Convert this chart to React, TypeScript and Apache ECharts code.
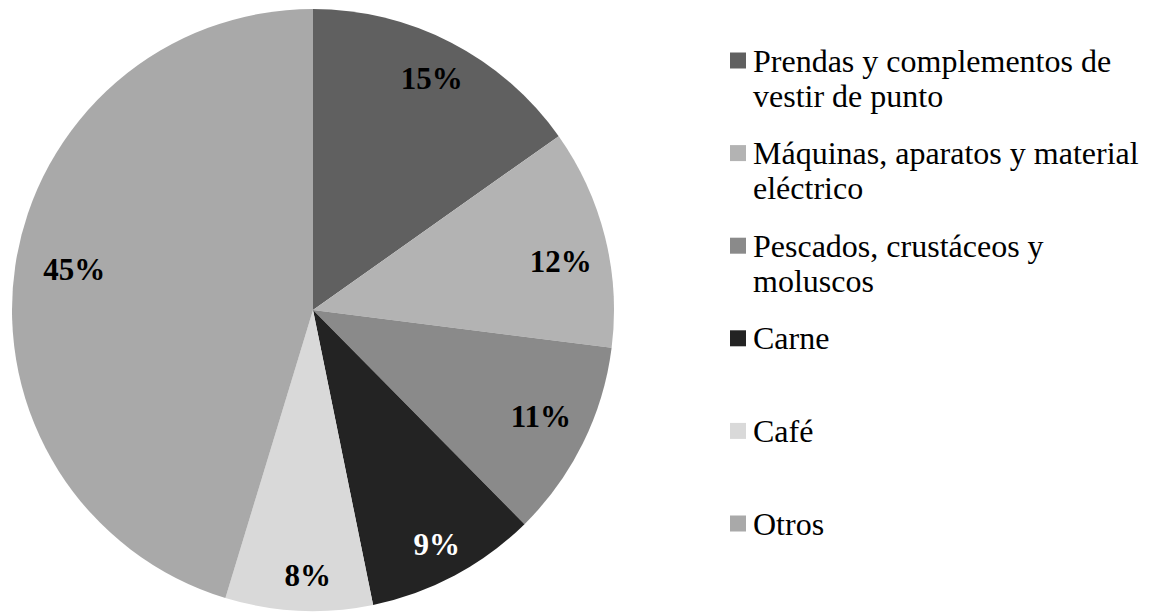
import React, { useEffect, useRef } from "react";
import * as echarts from "echarts";

const categories = [
  "Prendas y complementos de vestir de punto",
  "Máquinas, aparatos y material eléctrico",
  "Pescados, crustáceos y moluscos",
  "Carne",
  "Café",
  "Otros",
];
const legendLines = [
  ["Prendas y complementos de", "vestir de punto"],
  ["Máquinas, aparatos y material", "eléctrico"],
  ["Pescados, crustáceos y", "moluscos"],
  ["Carne"],
  ["Café"],
  ["Otros"],
];
const shares = [15.2, 11.8, 10.6, 9.2, 7.9, 45.3];
const palette = ["#606060", "#b3b3b3", "#8a8a8a", "#232323", "#d9d9d9", "#a9a9a9"];
const labelColors = ["#000", "#000", "#000", "#fff", "#000", "#000"];
// small nudges of the percentage labels (dx, dy in px)
const labelNudge = [
  [0, -2],
  [-3, 14],
  [-4, -8],
  [2, 6],
  [7, 7],
  [17, -2],
];

const FONT = "'Liberation Serif', 'Times New Roman', serif";
const BLANK = "\u00a0";

export default function App() {
  const ref = useRef<HTMLDivElement>(null);
  useEffect(() => {
    if (!ref.current) return;
    const chart = echarts.init(ref.current, undefined, { renderer: "svg" });
    const fillData = categories.map((name, i) => ({
      name,
      value: shares[i],
      itemStyle: { color: palette[i] },
    }));
    const labelData = categories.map((name, i) => ({
      name,
      value: shares[i],
      label: { color: labelColors[i] },
    }));
    chart.setOption({
      animation: false,
      backgroundColor: "#fff",
      legend: {
        orient: "vertical",
        left: 730,
        top: 8,
        padding: 0,
        itemWidth: 16,
        itemHeight: 16,
        itemGap: -12.4,
        icon: "rect",
        selectedMode: false,
        data: categories.map((name, i) => ({ name, itemStyle: { color: palette[i] } })),
        formatter: (name: string) => {
          const lines = legendLines[categories.indexOf(name)];
          return [BLANK, lines[0], lines[1] || BLANK].join("\n");
        },
        textStyle: {
          fontFamily: FONT,
          fontSize: 32,
          lineHeight: 35,
          color: "#000",
          padding: [0, 0, 0, 2],
        },
      },
      series: [
        {
          type: "pie",
          center: [313, 310],
          radius: [0, 301],
          startAngle: 90,
          clockwise: true,
          silent: true,
          label: { show: false },
          labelLine: { show: false },
          emphasis: { disabled: true },
          itemStyle: { borderWidth: 0 },
          data: fillData,
        },
        {
          type: "pie",
          center: [313, 310],
          radius: [210, 301],
          startAngle: 90,
          clockwise: true,
          silent: true,
          emphasis: { disabled: true },
          itemStyle: { color: "rgba(0,0,0,0)", borderWidth: 0 },
          labelLine: { show: false },
          label: {
            show: true,
            position: "inside",
            fontFamily: FONT,
            fontSize: 31,
            fontWeight: "bold",
            formatter: (p: any) => `${Math.round(p.value)}%`,
          },
          labelLayout: (p: any) => ({
            dx: labelNudge[p.dataIndex][0],
            dy: labelNudge[p.dataIndex][1],
          }),
          data: labelData,
        },
      ],
    });
    return () => chart.dispose();
  }, []);
  return (
    <div
      ref={ref}
      style={{ position: "absolute", left: 0, top: 0, width: 1149, height: 614 }}
    />
  );
}
